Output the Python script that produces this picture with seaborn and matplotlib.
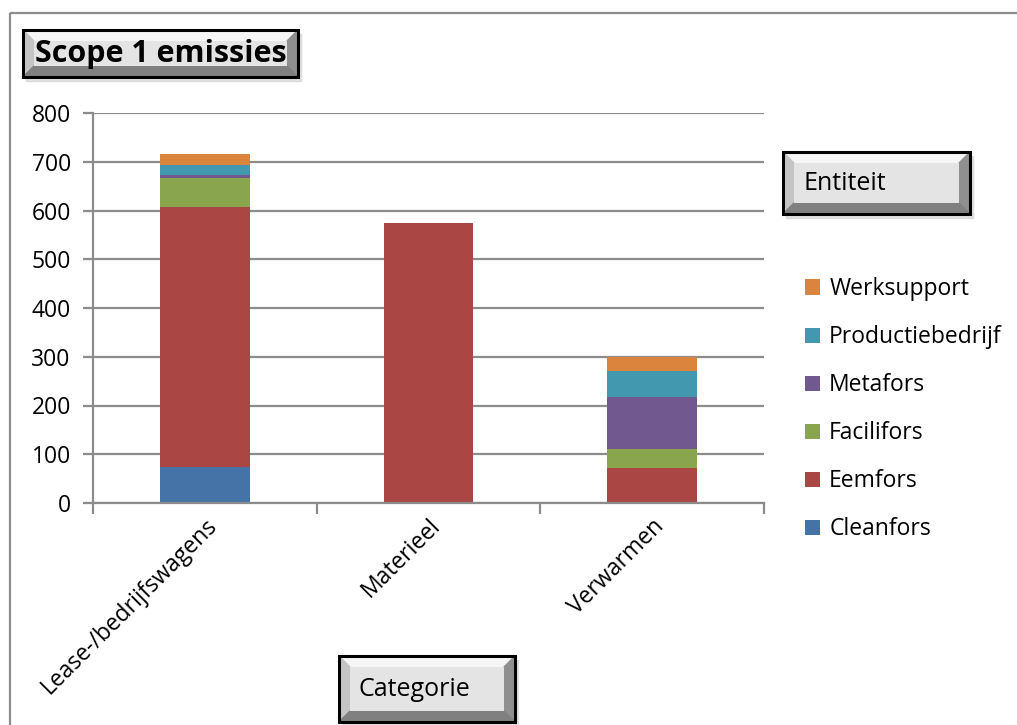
import numpy as np
import pandas as pd
import seaborn as sns
import matplotlib.pyplot as plt
from matplotlib.patches import Rectangle, Polygon

categories = ['Lease-/bedrijfswagens', 'Materieel', 'Verwarmen']
entities = ['Cleanfors', 'Eemfors', 'Facilifors', 'Metafors', 'Productiebedrijf', 'Werksupport']
cleanfors = [74, 0, 0]
eemfors = [533, 574, 72]
facilifors = [60, 0, 39]
metafors = [5, 0, 106]
productiebedrijf = [21, 0, 54]
werksupport = [23, 0, 29]
colors = ['#4572A7', '#AA4643', '#89A54E', '#71588F', '#4198AF', '#DB843D']

df = pd.DataFrame({'Categorie': categories, 'Cleanfors': cleanfors, 'Eemfors': eemfors,
                   'Facilifors': facilifors, 'Metafors': metafors,
                   'Productiebedrijf': productiebedrijf, 'Werksupport': werksupport})

sns.set_style('white')
plt.rcParams['font.family'] = ['Open Sans', 'DejaVu Sans']
plt.rcParams['text.color'] = 'black'
plt.rcParams['xtick.color'] = 'black'
plt.rcParams['ytick.color'] = 'black'

W, H = 1017, 725
fig = plt.figure(figsize=(W / 100, H / 100), dpi=100)
ax = fig.add_axes([93 / W, (H - 503) / H, (764 - 93) / W, (503 - 113) / H])

bottom = np.zeros(len(categories))
for ent, col in zip(entities, colors):
    sns.barplot(data=df, x='Categorie', y=ent, color=col, bottom=bottom, width=0.4,
                ax=ax, label=ent, saturation=1, edgecolor='none', linewidth=0)
    bottom = bottom + df[ent].values

ax.set_ylim(0, 800)
ax.set_xlim(-0.5, 2.5)
ax.set_yticks(range(0, 801, 100))
ax.yaxis.grid(True, color='#8c8c8c', linewidth=1.6)
ax.set_axisbelow(True)
ax.set_xlabel('')
ax.set_ylabel('')
for s in ['top', 'right']:
    ax.spines[s].set_visible(False)
ax.spines['left'].set_color('#8c8c8c')
ax.spines['left'].set_linewidth(1.6)
ax.spines['bottom'].set_color('#8c8c8c')
ax.spines['bottom'].set_linewidth(1.6)
ax.tick_params(axis='y', left=True, length=7, width=1.6, color='#8c8c8c', labelsize=16.5,
               labelcolor='black', pad=9)
ax.set_xticks([0, 1, 2])
ax.set_xticklabels(categories, rotation=45, ha='right', rotation_mode='anchor', fontsize=16.5,
                   color='black')
ax.tick_params(axis='x', which='major', length=0, pad=8)
ax.set_xticks([-0.5, 0.5, 1.5, 2.5], minor=True)
ax.tick_params(axis='x', which='minor', bottom=True, length=8, width=1.6, color='#8c8c8c')

handles, labels = ax.get_legend_handles_labels()
ax.legend(handles[::-1], labels[::-1], loc='upper left', bbox_to_anchor=(796 / W, (H - 268) / H),
          bbox_transform=fig.transFigure, frameon=False, fontsize=16.5, handlelength=0.65,
          handleheight=0.65, handletextpad=0.4, labelspacing=1.05, borderaxespad=0,
          labelcolor='black')

# overlay for frame and buttons (pixel coordinates)
ov = fig.add_axes([0, 0, 1, 1], zorder=5)
ov.set_xlim(0, W)
ov.set_ylim(H, 0)
ov.axis('off')
ov.patch.set_alpha(0)
ov.add_patch(Rectangle((10, 13), W, H, fill=False, edgecolor='#8c8c8c', linewidth=1.6))


def button(x0, y0, x1, y1, text, size, bold=False, ha='center'):
    b = 11
    ov.add_patch(Rectangle((x0 + 3, y0 + 4), x1 - x0, y1 - y0, color='#c8c8c8', alpha=0.5))
    ov.add_patch(Rectangle((x0, y0), x1 - x0, y1 - y0, facecolor='#dcdcdc', edgecolor='none'))
    ov.add_patch(Polygon([(x0, y0), (x1, y0), (x1 - b, y0 + b), (x0 + b, y0 + b)], color='#f6f6f6'))
    ov.add_patch(Polygon([(x0, y0), (x0 + b, y0 + b), (x0 + b, y1 - b), (x0, y1)], color='#c4c4c4'))
    ov.add_patch(Polygon([(x1, y0), (x1, y1), (x1 - b, y1 - b), (x1 - b, y0 + b)], color='#8f8f8f'))
    ov.add_patch(Polygon([(x0, y1), (x1, y1), (x1 - b, y1 - b), (x0 + b, y1 - b)], color='#808080'))
    ov.add_patch(Rectangle((x0 + b, y0 + b), x1 - x0 - 2 * b, y1 - y0 - 2 * b, facecolor='#e4e4e4', edgecolor='none'))
    ov.add_patch(Rectangle((x0, y0), x1 - x0, y1 - y0, fill=False, edgecolor='black', linewidth=2.2))
    tx = (x0 + x1) / 2 if ha == 'center' else x0 + 20
    ov.text(tx, (y0 + y1) / 2, text, ha=ha, va='center', fontsize=size,
            fontweight='bold' if bold else 'normal', color='black')


button(23, 30, 298, 77, 'Scope 1 emissies', 22, bold=True)
button(783, 152, 970, 214, 'Entiteit', 18, ha='left')
button(339, 656, 515, 722, 'Categorie', 18, ha='left')

fig.savefig('out.png', dpi=100)
